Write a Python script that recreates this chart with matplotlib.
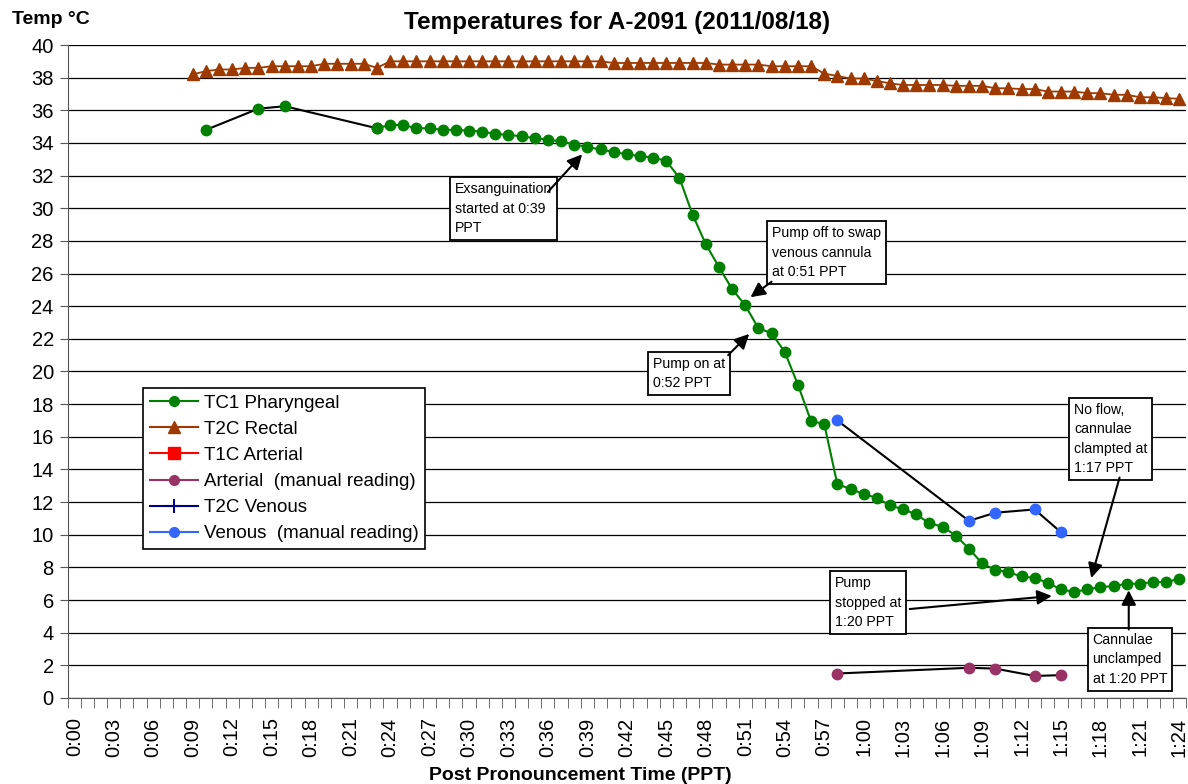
import matplotlib
matplotlib.use('Agg')
import matplotlib.pyplot as plt
from matplotlib.lines import Line2D

plt.rcParams['font.family'] = ['Liberation Sans', 'DejaVu Sans']

# pharyngeal, first sparse readings (joined with a black line in the original)
phar_pre_min = [10, 14, 16, 23]
phar_pre_temp = [34.8, 36.1, 36.25, 34.9]

# pharyngeal, one reading per minute from 0:23
phar_min = [23, 24, 25, 26, 27, 28, 29, 30, 31, 32, 33, 34, 35, 36, 37, 38, 39, 40,
            41, 42, 43, 44, 45, 46, 47, 48, 49, 50, 51, 52, 53, 54, 55, 56, 57, 58,
            59, 60, 61, 62, 63, 64, 65, 66, 67, 68, 69, 70, 71, 72, 73, 74, 75, 76,
            77, 78, 79, 80, 81, 82, 83, 84]
phar_temp = [34.9, 35.1, 35.1, 34.9, 34.9, 34.8, 34.8, 34.75, 34.7, 34.55, 34.5, 34.4,
             34.3, 34.2, 34.1, 33.9, 33.75, 33.6, 33.45, 33.3, 33.2, 33.1, 32.9, 31.85,
             29.6, 27.8, 26.4, 25.05, 24.05, 22.65, 22.35, 21.2, 19.2, 16.95, 16.8, 13.1,
             12.8, 12.5, 12.25, 11.8, 11.55, 11.25, 10.7, 10.5, 9.95, 9.15, 8.25, 7.85,
             7.7, 7.45, 7.35, 7.05, 6.65, 6.5, 6.65, 6.8, 6.85, 7.0, 7.0, 7.1, 7.1, 7.3]

rect_min = [9, 10, 11, 12, 13, 14, 15, 16, 17, 18, 19, 20, 21, 22, 23, 24, 25, 26, 27,
            28, 29, 30, 31, 32, 33, 34, 35, 36, 37, 38, 39, 40, 41, 42, 43, 44, 45, 46,
            47, 48, 49, 50, 51, 52, 53, 54, 55, 56, 57, 58, 59, 60, 61, 62, 63, 64, 65,
            66, 67, 68, 69, 70, 71, 72, 73, 74, 75, 76, 77, 78, 79, 80, 81, 82, 83, 84]
rect_temp = [38.2, 38.4, 38.5, 38.5, 38.6, 38.6, 38.7, 38.7, 38.7, 38.7, 38.85, 38.85,
             38.85, 38.85, 38.6, 39.0, 39.0, 39.0, 39.0, 39.0, 39.0, 39.0, 39.0, 39.0,
             39.0, 39.0, 39.0, 39.0, 39.0, 39.0, 39.0, 39.0, 38.9, 38.9, 38.9, 38.9,
             38.9, 38.9, 38.9, 38.9, 38.8, 38.8, 38.8, 38.8, 38.7, 38.7, 38.7, 38.7,
             38.25, 38.1, 37.95, 37.95, 37.8, 37.65, 37.55, 37.55, 37.55, 37.55, 37.5,
             37.5, 37.5, 37.35, 37.35, 37.3, 37.3, 37.15, 37.15, 37.15, 37.05, 37.05,
             36.95, 36.95, 36.8, 36.8, 36.75, 36.7]

ven_man_min = [58, 68, 70, 73, 75]
ven_man_temp = [17.0, 10.85, 11.35, 11.55, 10.15]

art_man_min = [58, 68, 70, 73, 75]
art_man_temp = [1.5, 1.85, 1.8, 1.35, 1.4]

tick_min = [0, 3, 6, 9, 12, 15, 18, 21, 24, 27, 30, 33, 36, 39, 42, 45, 48, 51, 54,
            57, 60, 63, 66, 69, 72, 75, 78, 81, 84]
tick_labels = ['0:00', '0:03', '0:06', '0:09', '0:12', '0:15', '0:18', '0:21', '0:24',
               '0:27', '0:30', '0:33', '0:36', '0:39', '0:42', '0:45', '0:48', '0:51',
               '0:54', '0:57', '1:00', '1:03', '1:06', '1:09', '1:12', '1:15', '1:18',
               '1:21', '1:24']

green = '#008000'
rust = '#9E3A00'
purple = '#993366'
blue = '#3366FF'

fig = plt.figure(figsize=(11.88, 7.84), dpi=100)
ax = fig.add_axes([0.057, 0.1097, 0.9413, 0.8329])

ax.set_xlim(-0.5, 84.5)
ax.set_ylim(0, 40)
ax.set_yticks(range(0, 41, 2))
ax.grid(axis='y', color='black', lw=0.9)
ax.set_axisbelow(True)
for s in ['top', 'right']:
    ax.spines[s].set_visible(False)
ax.spines['left'].set_color('#555555')
ax.spines['bottom'].set_color('#555555')

ax.set_xticks(tick_min)
ax.set_xticklabels(tick_labels, rotation=90)
ax.set_xticks([m - 0.5 for m in range(86)], minor=True)
ax.tick_params(axis='x', which='major', length=0, pad=14, labelsize=14.5)
ax.tick_params(axis='x', which='minor', length=7, color='#555555')
ax.tick_params(axis='y', length=6, pad=4, labelsize=14.5, color='#555555')

# series
ax.plot(rect_min, rect_temp, '-^', color=rust, lw=1.3, ms=9, zorder=3)
ax.plot(phar_pre_min, phar_pre_temp, '-', color='black', lw=1.5, zorder=3)
ax.plot(phar_pre_min, phar_pre_temp, 'o', color=green, ms=7.5, zorder=4)
ax.plot(phar_min, phar_temp, '-o', color=green, lw=1.5, ms=7.5, zorder=4)
ax.plot(ven_man_min, ven_man_temp, '-', color='black', lw=1.5, zorder=3)
ax.plot(ven_man_min, ven_man_temp, 'o', color=blue, ms=7.5, zorder=4)
ax.plot(art_man_min, art_man_temp, '-', color='black', lw=1.5, zorder=3)
ax.plot(art_man_min, art_man_temp, 'o', color=purple, ms=7.5, zorder=4)

# annotations: text, text corner, arrow tail, arrow tip (data coords)
notes = [
    ('Exsanguination\nstarted at 0:39\nPPT', (28.95, 31.6), (36.0, 31.0), (38.6, 33.3)),
    ('Pump off to swap\nvenous cannula\nat 0:51 PPT', (53.05, 28.9), (53.0, 25.5), (51.4, 24.55)),
    ('Pump on at\n0:52 PPT', (43.95, 20.9), (49.7, 21.0), (51.3, 22.3)),
    ('No flow,\ncannulae\nclampted at\n1:17 PPT', (76.0, 18.1), (79.45, 13.5), (77.3, 7.35)),
    ('Pump\nstopped at\n1:20 PPT', (57.8, 7.45), (63.5, 5.45), (74.3, 6.25)),
    ('Cannulae\nunclamped\nat 1:20 PPT', (77.4, 4.0), (80.15, 4.2), (80.15, 6.6)),
]
for txt, pos, tail, tip in notes:
    ax.text(pos[0], pos[1], txt, ha='left', va='top', fontsize=10.2, linespacing=1.5,
            bbox=dict(boxstyle='square,pad=0.35', fc='white', ec='black', lw=1.3),
            zorder=6)
    ax.annotate('', xy=tip, xytext=tail,
                arrowprops=dict(arrowstyle='-|>', color='black', lw=1.5,
                                mutation_scale=22, shrinkA=0, shrinkB=0),
                zorder=7)

handles = [
    Line2D([], [], color=green, marker='o', ms=7, lw=1.5),
    Line2D([], [], color=rust, marker='^', ms=9, lw=1.5),
    Line2D([], [], color='#FF0000', marker='s', ms=9, lw=1.5),
    Line2D([], [], color=purple, marker='o', ms=7, lw=1.5),
    Line2D([], [], color='#000080', marker='+', ms=10, mew=1.5, lw=1.5),
    Line2D([], [], color=blue, marker='o', ms=7, lw=1.5),
]
labels = ['TC1 Pharyngeal', 'T2C Rectal', 'T1C Arterial', 'Arterial  (manual reading)',
          'T2C Venous', 'Venous  (manual reading)']
leg = ax.legend(handles, labels, loc='upper left', bbox_to_anchor=(0.0673, 0.4747),
                borderaxespad=0, fontsize=13.5, handlelength=2.6, handletextpad=0.3,
                labelspacing=0.48, fancybox=False, framealpha=1, edgecolor='black',
                borderpad=0.35)
leg.get_frame().set_linewidth(1.2)

fig.text(617 / 1188, 1 - 22 / 784, 'Temperatures for A-2091 (2011/08/18)',
         ha='center', va='center', fontsize=17.5, fontweight='bold')
fig.text(12 / 1188, 1 - 19 / 784, 'Temp \u00b0C', ha='left', va='center',
         fontsize=14, fontweight='bold')
fig.text(580 / 1188, 1 - 775 / 784, 'Post Pronouncement Time (PPT)',
         ha='center', va='center', fontsize=14, fontweight='bold')

fig.savefig('out.png', dpi=100)
